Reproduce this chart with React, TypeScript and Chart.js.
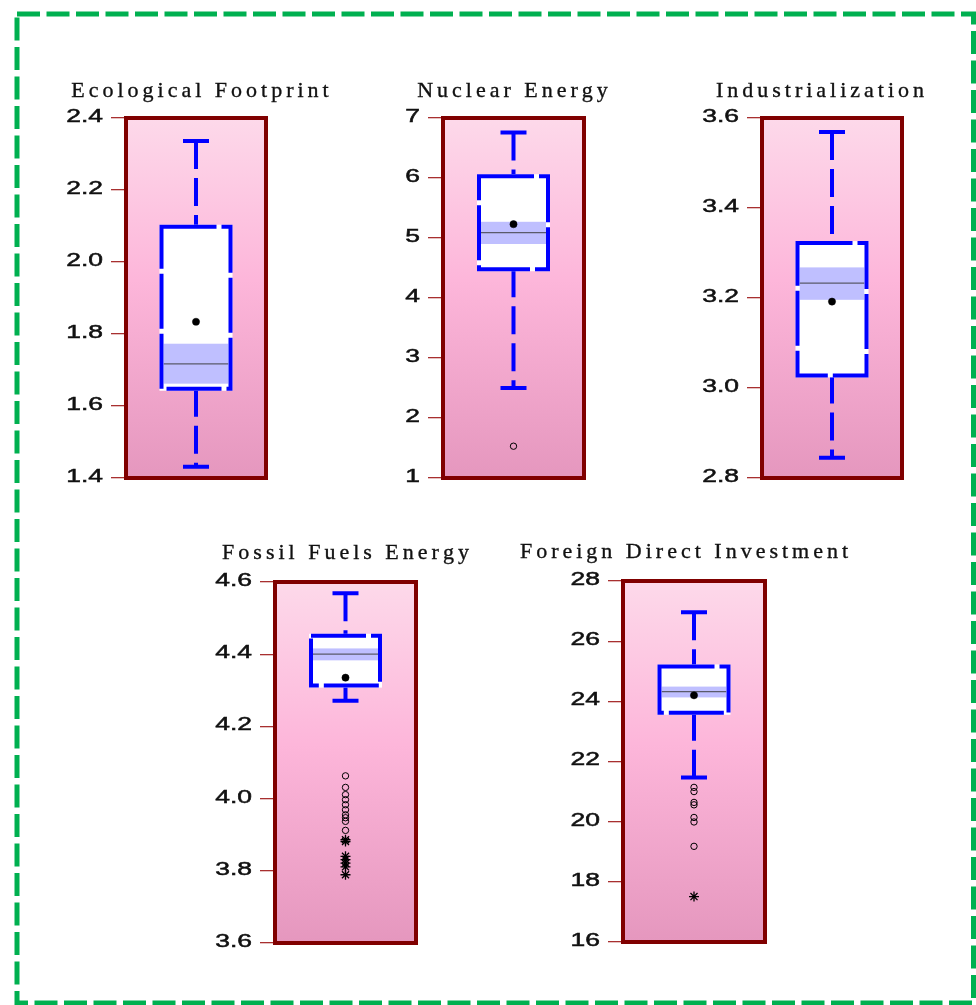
import React, { useEffect, useRef } from 'react';
import { Chart, registerables } from 'chart.js';

Chart.register(...registerables);

// ---------- data ----------
const titles = [
  'Ecological Footprint',
  'Nuclear Energy',
  'Industrialization',
  'Fossil Fuels Energy',
  'Foreign Direct Investment',
];

const ecoTicks = ['1.4', '1.6', '1.8', '2.0', '2.2', '2.4'];
const nuclearTicks = ['1', '2', '3', '4', '5', '6', '7'];
const industryTicks = ['2.8', '3.0', '3.2', '3.4', '3.6'];
const fossilTicks = ['3.6', '3.8', '4.0', '4.2', '4.4', '4.6'];
const fdiTicks = ['16', '18', '20', '22', '24', '26', '28'];

const whiskerLow = [1.431, 2.5, 2.845, 4.271, 21.47];
const q1 = [1.648, 4.48, 3.028, 4.313, 23.62];
const medians = [1.717, 5.09, 3.233, 4.4, 24.32];
const q3 = [2.098, 6.03, 3.322, 4.451, 25.16];
const whiskerHigh = [2.336, 6.76, 3.569, 4.569, 26.96];
const medianCiLow = [1.662, 4.9, 3.196, 4.383, 24.13];
const medianCiHigh = [1.773, 5.27, 3.268, 4.416, 24.49];
const means = [1.834, 5.23, 3.192, 4.335, 24.2];

const ecoOutliers: number[] = [];
const nuclearOutliers = [1.53];
const industryOutliers: number[] = [];
const fossilOutliers = [4.063, 4.031, 4.011, 3.997, 3.983, 3.969, 3.955, 3.947, 3.937, 3.912];
const fdiOutliers = [21.14, 21.0, 20.64, 20.56, 20.14, 19.99, 19.18];

const ecoExtremes: number[] = [];
const nuclearExtremes: number[] = [];
const industryExtremes: number[] = [];
const fossilExtremes = [3.886, 3.881, 3.84, 3.831, 3.821, 3.811, 3.789];
const fdiExtremes = [17.51];

const tickLabels = [ecoTicks, nuclearTicks, industryTicks, fossilTicks, fdiTicks];
const outliers = [ecoOutliers, nuclearOutliers, industryOutliers, fossilOutliers, fdiOutliers];
const extremes = [ecoExtremes, nuclearExtremes, industryExtremes, fossilExtremes, fdiExtremes];

// ---------- layout / style ----------
const LAYOUT = [
  { left: 126, top: 118, right: 266, bottom: 478, titleDx: 4, titleGap: 21 },
  { left: 443, top: 118, right: 584, bottom: 478, titleDx: -1, titleGap: 21 },
  { left: 762, top: 118, right: 902, bottom: 478, titleDx: -12, titleGap: 21 },
  { left: 275, top: 582, right: 416, bottom: 943, titleDx: 0, titleGap: 23 },
  { left: 623, top: 581, right: 765, bottom: 942, titleDx: -10, titleGap: 23 },
];
const AXIS_W = 160;
const PAD_T = 60;
const PAD_R = 110;
const PAD_B = 10;
const BOX_HW = 34.5;
const CAP_HW = 13;
const BLUE = '#0000ff';
const TICK_FONT = '18px "Liberation Sans", Arial, sans-serif';
const TITLE_FONT = '22px "Liberation Serif", "Times New Roman", serif';

function drawSpaced(ctx: CanvasRenderingContext2D, text: string, cx: number, baseline: number, spacing: number) {
  const chars = Array.from(text);
  const widths = chars.map((c) => ctx.measureText(c).width);
  const total = widths.reduce((a, b) => a + b, 0) + spacing * (chars.length - 1);
  let x = cx - total / 2;
  ctx.textAlign = 'left';
  ctx.textBaseline = 'alphabetic';
  chars.forEach((c, k) => {
    ctx.fillText(c, x, baseline);
    ctx.strokeText(c, x, baseline);
    x += widths[k] + spacing;
  });
}

function makePlugin(i: number) {
  return {
    id: 'boxplot' + i,
    beforeDraw(chart: any) {
      const { ctx, chartArea: a } = chart;
      const g = ctx.createLinearGradient(0, a.top, 0, a.bottom);
      g.addColorStop(0, '#fdd9ea');
      g.addColorStop(0.45, '#fdb6da');
      g.addColorStop(1, '#e597be');
      ctx.save();
      ctx.fillStyle = g;
      ctx.fillRect(a.left, a.top, a.right - a.left, a.bottom - a.top);
      ctx.restore();
    },
    beforeDatasetsDraw(chart: any) {
      const { ctx, scales } = chart;
      const x = scales.x;
      const y = scales.y;
      const cx = x.getPixelForValue(0);
      const yQ1 = y.getPixelForValue(q1[i]);
      const yQ3 = y.getPixelForValue(q3[i]);
      const yMed = y.getPixelForValue(medians[i]);
      const yLo = y.getPixelForValue(whiskerLow[i]);
      const yHi = y.getPixelForValue(whiskerHigh[i]);
      const yCiL = y.getPixelForValue(medianCiLow[i]);
      const yCiH = y.getPixelForValue(medianCiHigh[i]);
      ctx.save();
      // box fill
      ctx.fillStyle = '#ffffff';
      ctx.fillRect(cx - BOX_HW, yQ3, 2 * BOX_HW, yQ1 - yQ3);
      // median notch band
      ctx.fillStyle = '#bfbfff';
      ctx.fillRect(cx - BOX_HW + 2, yCiH, 2 * BOX_HW - 4, yCiL - yCiH);
      // median line
      ctx.strokeStyle = '#5a5a6a';
      ctx.lineWidth = 1.2;
      ctx.beginPath();
      ctx.moveTo(cx - BOX_HW + 2, yMed);
      ctx.lineTo(cx + BOX_HW - 2, yMed);
      ctx.stroke();
      // whiskers
      ctx.strokeStyle = BLUE;
      ctx.lineWidth = 4;
      ctx.setLineDash([28, 9]);
      ctx.beginPath();
      ctx.moveTo(cx, yHi);
      ctx.lineTo(cx, yQ3);
      ctx.stroke();
      ctx.beginPath();
      ctx.moveTo(cx, yQ1);
      ctx.lineTo(cx, yLo);
      ctx.stroke();
      // caps
      ctx.setLineDash([]);
      ctx.beginPath();
      ctx.moveTo(cx - CAP_HW, yHi);
      ctx.lineTo(cx + CAP_HW, yHi);
      ctx.moveTo(cx - CAP_HW, yLo);
      ctx.lineTo(cx + CAP_HW, yLo);
      ctx.stroke();
      // box outline
      ctx.strokeStyle = '#ffffff';
      ctx.strokeRect(cx - BOX_HW, yQ3, 2 * BOX_HW, yQ1 - yQ3);
      ctx.strokeStyle = BLUE;
      ctx.setLineDash([55, 5]);
      ctx.strokeRect(cx - BOX_HW, yQ3, 2 * BOX_HW, yQ1 - yQ3);
      ctx.restore();
    },
    afterDatasetsDraw(chart: any) {
      const { ctx, chartArea: a, scales } = chart;
      const y = scales.y;
      const L = LAYOUT[i];
      ctx.save();
      // frame
      ctx.strokeStyle = '#800000';
      ctx.lineWidth = 4;
      ctx.strokeRect(a.left, a.top, a.right - a.left, a.bottom - a.top);
      // tick labels
      ctx.fillStyle = '#111111';
      ctx.strokeStyle = '#111111';
      ctx.lineWidth = 0.5;
      ctx.font = TICK_FONT;
      ctx.textAlign = 'right';
      ctx.textBaseline = 'middle';
      tickLabels[i].forEach((lab) => {
        const py = y.getPixelForValue(parseFloat(lab));
        ctx.save();
        ctx.translate(a.left - 23, py - 1);
        ctx.scale(1.47, 1);
        ctx.fillText(lab, 0, 0);
        ctx.strokeText(lab, 0, 0);
        ctx.restore();
      });
      // title
      ctx.font = TITLE_FONT;
      ctx.fillStyle = '#111111';
      ctx.strokeStyle = '#111111';
      ctx.lineWidth = 0.35;
      drawSpaced(ctx, titles[i], (a.left + a.right) / 2 + L.titleDx, a.top - L.titleGap, 4.0);
      ctx.restore();
    },
  };
}

function Panel({ i }: { i: number }) {
  const ref = useRef<HTMLCanvasElement | null>(null);
  const L = LAYOUT[i];
  const w = L.right - L.left + AXIS_W + PAD_R;
  const h = L.bottom - L.top + PAD_T + PAD_B;

  useEffect(() => {
    if (!ref.current) return;
    const ticks = tickLabels[i].map((t) => parseFloat(t));
    const cat = titles[i];
    const chart = new Chart(ref.current, {
      type: 'scatter',
      data: {
        labels: [cat],
        datasets: [
          {
            label: 'Mean',
            data: [{ x: cat, y: means[i] }] as any,
            pointStyle: 'circle',
            pointRadius: 3.6,
            backgroundColor: '#000000',
            borderColor: '#000000',
            borderWidth: 0.5,
          },
          {
            label: 'Outliers',
            data: outliers[i].map((v) => ({ x: cat, y: v })) as any,
            pointStyle: 'circle',
            pointRadius: 3.2,
            backgroundColor: 'rgba(0,0,0,0)',
            borderColor: '#000000',
            borderWidth: 1,
          },
          {
            label: 'Far outliers',
            data: extremes[i].map((v) => ({ x: cat, y: v })) as any,
            pointStyle: 'star',
            pointRadius: 5,
            backgroundColor: '#000000',
            borderColor: '#000000',
            borderWidth: 1.3,
          },
        ],
      },
      options: {
        responsive: false,
        maintainAspectRatio: false,
        animation: false,
        devicePixelRatio: 1,
        events: [],
        layout: { padding: { left: 0, top: PAD_T, right: PAD_R, bottom: PAD_B } },
        plugins: {
          legend: { display: false },
          tooltip: { enabled: false },
          title: { display: false },
        },
        scales: {
          x: {
            type: 'category',
            labels: [cat],
            offset: true,
            display: false,
          },
          y: {
            type: 'linear',
            min: ticks[0],
            max: ticks[ticks.length - 1],
            afterBuildTicks: (s: any) => {
              s.ticks = ticks.map((v) => ({ value: v }));
            },
            afterFit: (s: any) => {
              s.width = AXIS_W;
            },
            ticks: { display: false },
            grid: {
              drawOnChartArea: false,
              drawTicks: true,
              tickLength: 15,
              color: '#a83030',
              lineWidth: 1.3,
            },
            border: { display: false },
          },
        },
      } as any,
      plugins: [makePlugin(i)],
    });
    return () => chart.destroy();
  }, [i]);

  return (
    <canvas
      ref={ref}
      width={w}
      height={h}
      style={{
        position: 'absolute',
        left: L.left - AXIS_W,
        top: L.top - PAD_T,
        width: w,
        height: h,
      }}
    />
  );
}

export default function App() {
  return (
    <div
      style={{
        position: 'absolute',
        left: 0,
        top: 0,
        width: 976,
        height: 1005,
        background: '#ffffff',
        overflow: 'hidden',
      }}
    >
      <svg width={976} height={1005} style={{ position: 'absolute', left: 0, top: 0 }}>
        <rect
          x={17}
          y={14}
          width={956.5}
          height={989}
          fill="none"
          stroke="#00b050"
          strokeWidth={5}
          strokeDasharray="23 6.5"
        />
      </svg>
      {titles.map((_, i) => (
        <Panel key={i} i={i} />
      ))}
    </div>
  );
}
